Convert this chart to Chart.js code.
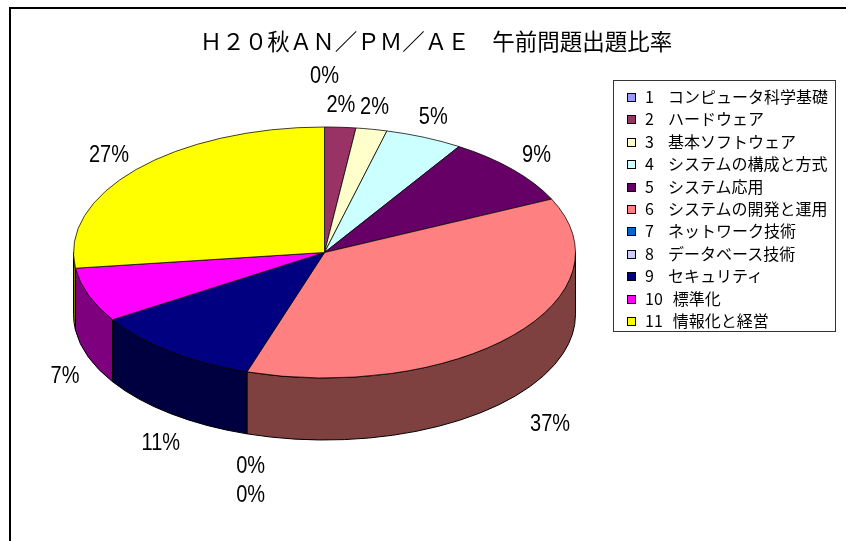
<!DOCTYPE html>
<html>
<head>
<meta charset="utf-8">
<script src="https://cdn.jsdelivr.net/npm/chart.js@4.4.0/dist/chart.umd.min.js"></script>
<style>
  html, body { margin: 0; padding: 0; background: #fff; }
  #wrap { position: relative; width: 846px; height: 541px; overflow: hidden; }
  #frame { position: absolute; left: 9px; top: 7px; width: 900px; height: 600px;
           border-left: 2px solid #000; border-top: 2px solid #000; }
  #chart { position: absolute; left: 0; top: 0; }
  #title { position: absolute; left: 0; width: 872px; top: 24px; text-align: center;
           font: 22.5px "Noto Sans CJK JP", sans-serif; color: #000; white-space: nowrap; }
  #legend { position: absolute; left: 613px; top: 80px; width: 223px; height: 252px;
            border: 1px solid #333; box-sizing: border-box; padding-top: 4px;
            font: 16px "Noto Sans CJK JP", sans-serif; color: #000; }
  #legend .row { height: 22.4px; line-height: 22.4px; white-space: nowrap; }
  #legend .box { display: inline-block; width: 7px; height: 7px; border: 1px solid #000;
                 margin: 0 9px 0 13px; vertical-align: 1px; }
  #legend .num { display: inline-block; min-width: 13px; padding-right: 10px; }
</style>
</head>
<body>
<div id="wrap">
  <div id="frame"></div>
  <canvas id="chart" width="846" height="541"></canvas>
  <div id="title">Ｈ２０秋ＡＮ／ＰＭ／ＡＥ　午前問題出題比率</div>
  <div id="legend"></div>
</div>

<script>
  // 分野ごとの出題比率 (%)
  const categories = [
    "コンピュータ科学基礎", "ハードウェア", "基本ソフトウェア", "システムの構成と方式",
    "システム応用", "システムの開発と運用", "ネットワーク技術", "データベース技術",
    "セキュリティ", "標準化", "情報化と経営"
  ];
  const shares = [0, 2, 2, 5, 9, 37, 0, 0, 11, 7, 27];
  const colors = [
    "#9999FF", "#993366", "#FFFFCC", "#CCFFFF", "#660066", "#FF8080",
    "#0066CC", "#CCCCFF", "#000080", "#FF00FF", "#FFFF00"
  ];

  const DEPTH = 62;   // 側面の厚さ
  const TILT = 0.5;   // 縦方向のつぶし

  // 側面用に色を半分の明るさにする
  function shade(hex) {
    const n = parseInt(hex.slice(1), 16);
    const r = (n >> 16) >> 1, g = ((n >> 8) & 255) >> 1, b = (n & 255) >> 1;
    return "rgb(" + r + "," + g + "," + b + ")";
  }

  // HTML 凡例
  const legend = document.getElementById("legend");
  categories.forEach(function (name, i) {
    const row = document.createElement("div");
    row.className = "row";
    row.innerHTML = '<span class="box" style="background:' + colors[i] + '"></span>' +
      '<span class="num">' + (i + 1) + "</span>" + name;
    legend.appendChild(row);
  });

  const pie3d = {
    id: "pie3d",
    beforeDatasetsDraw(chart) {
      const ctx = chart.ctx;
      const arcs = chart.getDatasetMeta(0).data;
      const cx = arcs[0].x, cy = arcs[0].y;
      const rx = arcs[0].outerRadius, ry = rx * TILT;

      // 手前側の側面
      ctx.save();
      ctx.lineWidth = 1;
      ctx.strokeStyle = "#000";
      arcs.forEach(function (arc, i) {
        const s = Math.max(arc.startAngle, 0);
        const e = Math.min(arc.endAngle, Math.PI);
        if (e <= s) return;
        ctx.beginPath();
        ctx.ellipse(cx, cy, rx, ry, 0, s, e);
        ctx.ellipse(cx, cy + DEPTH, rx, ry, 0, e, s, true);
        ctx.closePath();
        ctx.fillStyle = shade(colors[i]);
        ctx.fill();
        ctx.stroke();
      });
      ctx.restore();

      // 上面は楕円につぶして描く
      ctx.save();
      ctx.translate(cx, cy);
      ctx.scale(1, TILT);
      ctx.translate(-cx, -cy);
    },
    afterDatasetsDraw(chart) {
      const ctx = chart.ctx;
      ctx.restore();

      const arcs = chart.getDatasetMeta(0).data;
      const cx = arcs[0].x, cy = arcs[0].y;
      const rx = arcs[0].outerRadius, ry = rx * TILT;
      ctx.save();
      ctx.font = '20px "Liberation Sans", Arial, sans-serif';
      ctx.fillStyle = "#000";
      ctx.textAlign = "center";
      ctx.textBaseline = "middle";

      // 大きい値から配置し、重なったら外側へずらす
      const order = shares.map(function (v, i) { return i; })
        .sort(function (a, b) { return shares[b] - shares[a]; });
      const placed = [];
      const h = 22;
      order.forEach(function (i) {
        const arc = arcs[i];
        const mid = (arc.startAngle + arc.endAngle) / 2;
        const c = Math.cos(mid), s = Math.sin(mid);
        const text = shares[i] + "%";
        const w = ctx.measureText(text).width;
        const out = (w / 2 + 22) * Math.pow(Math.abs(c), 1.5);
        let x = cx + rx * c + Math.sign(c) * out + (s > 0 ? 10 : 0);
        let y = cy + (ry + 22) * s + (s > 0 ? DEPTH + 12 : 0);
        const dir = s > 0 ? 1 : -1;
        const hit = function () {
          return placed.some(function (p) {
            return Math.abs(p.x - x) < (p.w + w) / 2 && Math.abs(p.y - y) < h;
          });
        };
        let guard = 0;
        while (hit() && guard++ < 10) y += dir * 29;
        placed.push({ x: x, y: y, w: w });
        ctx.save();
        ctx.translate(x, y);
        ctx.scale(1, 1.2);
        ctx.fillText(text, 0, 0);
        ctx.restore();
      });
      ctx.restore();
    }
  };

  new Chart(document.getElementById("chart"), {
    type: "pie",
    data: {
      labels: categories,
      datasets: [{
        data: shares,
        backgroundColor: colors,
        borderColor: "#000",
        borderWidth: 1,
        hoverOffset: 0
      }]
    },
    options: {
      responsive: false,
      animation: false,
      events: [],
      layout: { padding: { left: 73, right: 270, top: 0, bottom: 36 } },
      plugins: {
        legend: { display: false },
        tooltip: { enabled: false },
        title: { display: false }
      }
    },
    plugins: [pie3d]
  });
</script>
</body>
</html>
